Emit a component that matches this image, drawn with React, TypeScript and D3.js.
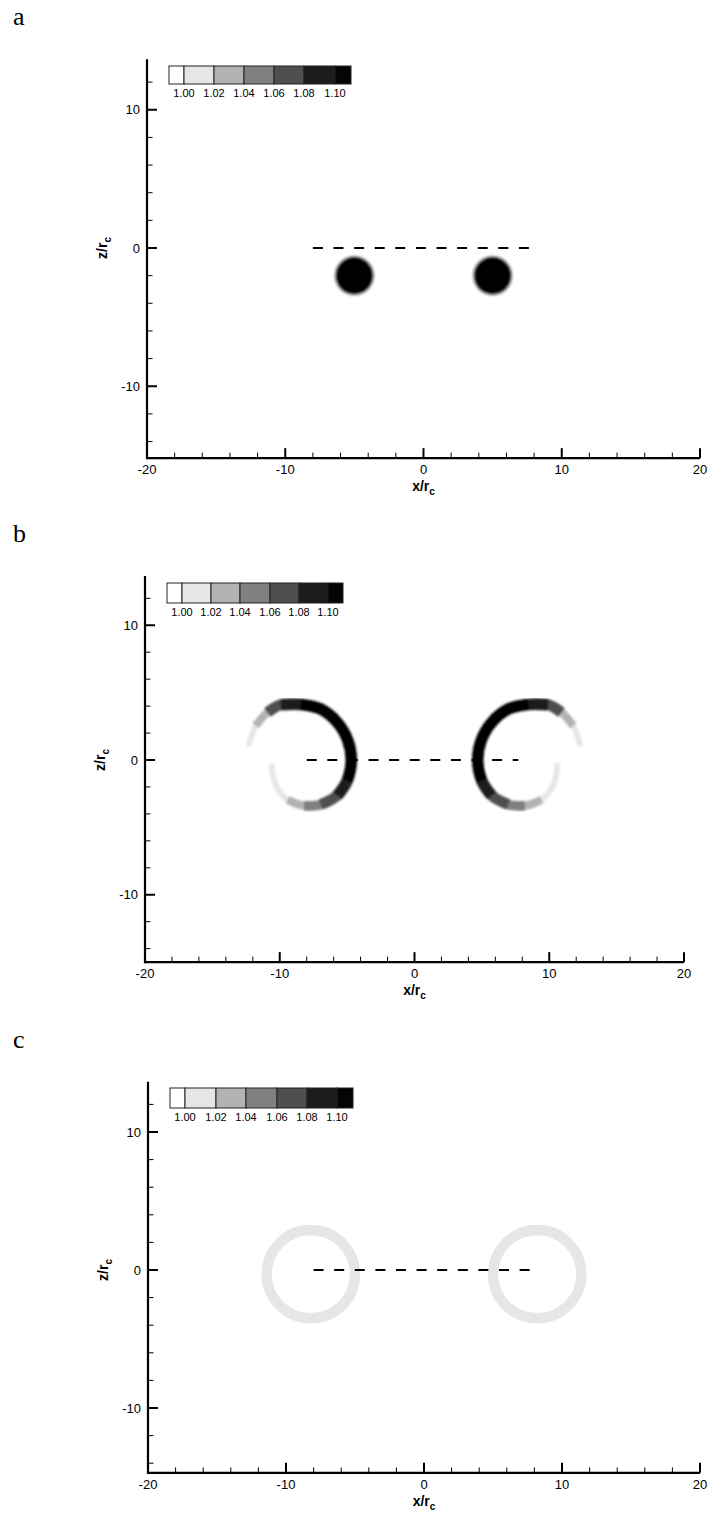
import React from 'react';
import * as d3 from 'd3';

// ---------- data ----------
const levelValues = [1.0, 1.02, 1.04, 1.06, 1.08, 1.1];
const levelLabels = ['1.00', '1.02', '1.04', '1.06', '1.08', '1.10'];
const levelColors = ['#ffffff', '#e6e6e6', '#b3b3b3', '#808080', '#4f4f4f', '#1c1c1c', '#050505'];

const xMajorTicks = [-20, -10, 0, 10, 20];
const zMajorTicks = [-10, 0, 10];
const xMinorTicks = [-18, -16, -14, -12, -8, -6, -4, -2, 2, 4, 6, 8, 12, 14, 16, 18];
const zMinorTicks = [-14, -12, -8, -6, -4, -2, 2, 4, 6, 8, 12];
const xDomain = [-20, 20];
const zTop = 13.65;

// dashed reference line (z = 0)
const dashStartX = -8;
const dashEndX = 7.7;

// panel a: vortex cores
const coreX = [-5, 5];
const coreZ = [-2, -2];
const coreRadius = [1.5, 1.5];
const coreShellRadii = [1.0, 0.96, 0.92, 0.87]; // fraction of radius
const coreShellValues = [1.01, 1.03, 1.07, 1.11];

// panel b: spiral (left vortex, right is its mirror)
const spiralX = [-12.27, -11.78, -10.91, -9.93, -8.44, -6.96, -5.73, -4.94, -4.69, -4.99, -5.73, -6.96, -8.2, -9.43, -10.17, -10.54, -10.6];
const spiralZ = [1.2, 2.54, 3.53, 4.1, 4.12, 3.78, 2.79, 1.43, -0.05, -1.53, -2.64, -3.31, -3.4, -2.95, -2.1, -1.0, -0.42];
const spiralValue = [1.01, 1.035, 1.07, 1.095, 1.11, 1.11, 1.11, 1.11, 1.11, 1.11, 1.095, 1.075, 1.055, 1.035, 1.015, 1.01, 1.005];
const layerWidth = [0.42, 0.6, 0.72, 0.8, 0.86, 0.78];

// panel c: rings
const ringX = [-8.2, 8.2];
const ringZ = [-0.3, -0.3];
const ringRadius = [3.2, 3.2];
const ringWidth = [0.75, 0.75];
const ringValue = [1.01, 1.01];

// ---------- layout ----------
const panels = [
  { id: 'a', xL: 147, xR: 700, y0: 248, zBottom: -15.2, legX: [169, 184, 214, 244, 274, 304, 335, 351], legTop: 66, legH: 18 },
  { id: 'b', xL: 145, xR: 684, y0: 760, zBottom: -15, legX: [167, 182, 211, 240, 270, 299, 328, 343], legTop: 583, legH: 20 },
  { id: 'c', xL: 148, xR: 700, y0: 1270, zBottom: -14.7, legX: [170, 185, 216, 246, 277, 307, 337, 353], legTop: 1088, legH: 20 },
];

const color = d3.scaleThreshold<number, string>().domain(levelValues).range(levelColors);
const FONT = 'Liberation Sans, Arial, Helvetica, sans-serif';

function Panel({ p }: { p: any }) {
  const k = (p.xR - p.xL) / (xDomain[1] - xDomain[0]);
  const x = d3.scaleLinear().domain(xDomain).range([p.xL, p.xR]);
  const z = d3.scaleLinear().domain([p.zBottom, zTop]).range([p.y0 - p.zBottom * k, p.y0 - zTop * k]);
  const yBottom = z(p.zBottom);
  const yTop = z(zTop);
  const xMid = x(0);

  const content: any[] = [];
  if (p.id === 'a') {
    coreX.forEach((cx, i) => {
      coreShellRadii.forEach((f, j) => {
        content.push(
          <circle key={`c${i}-${j}`} cx={x(cx)} cy={z(coreZ[i])} r={coreRadius[i] * f * k} fill={color(coreShellValues[j])} />
        );
      });
    });
  }
  if (p.id === 'b') {
    [1, -1].forEach((s) => {
      const pts = spiralX.map((v, i) => [x(s * v), z(spiralZ[i])] as [number, number]);
      levelValues.forEach((L, j) => {
        const idx = spiralValue.map((v, i) => (v > L ? i : -1)).filter((i) => i >= 0);
        if (!idx.length) return;
        const sub = pts.slice(idx[0], idx[idx.length - 1] + 1);
        const path = d3.line().curve(d3.curveCatmullRom.alpha(0.5))(sub) || '';
        content.push(
          <path key={`sp${s}-${j}`} d={path} fill="none" stroke={levelColors[j + 1]} strokeWidth={layerWidth[j] * k}
            strokeLinecap={j === 0 ? 'round' : 'butt'} strokeLinejoin="round" />
        );
      });
    });
  }
  if (p.id === 'c') {
    ringX.forEach((cx, i) => {
      content.push(
        <circle key={`r${i}`} cx={x(cx)} cy={z(ringZ[i])} r={ringRadius[i] * k} fill="none" stroke={color(ringValue[i])} strokeWidth={ringWidth[i] * k} />
      );
    });
  }

  return (
    <g>
      <text x={13} y={yTop - 34} fontFamily="Liberation Serif, Times New Roman, serif" fontSize={26}>{p.id}</text>
      <g filter={p.id === 'c' ? undefined : 'url(#soft)'}>{content}</g>
      {/* dashed line */}
      <line x1={x(dashStartX)} x2={x(dashEndX)} y1={z(0)} y2={z(0)} stroke="#000" strokeWidth={2} strokeDasharray="10 10.6" />
      {/* legend */}
      {levelColors.map((c, i) => (
        <rect key={`l${i}`} x={p.legX[i]} y={p.legTop} width={p.legX[i + 1] - p.legX[i]} height={p.legH} fill={c} stroke="#222" strokeWidth={1} />
      ))}
      {levelLabels.map((t, i) => (
        <text key={`lt${i}`} x={p.legX[i + 1]} y={p.legTop + p.legH + 13} fontFamily={FONT} fontSize={11} textAnchor="middle">{t}</text>
      ))}
      {/* axes */}
      <line x1={p.xL} x2={p.xR} y1={yBottom} y2={yBottom} stroke="#000" strokeWidth={2.2} />
      <line x1={p.xL} x2={p.xL} y1={yBottom + 1.1} y2={yTop} stroke="#000" strokeWidth={2.2} />
      {xMajorTicks.map((t) => (
        <g key={`xm${t}`}>
          <line x1={x(t)} x2={x(t)} y1={yBottom} y2={yBottom - 10} stroke="#000" strokeWidth={2} />
          <text x={x(t)} y={yBottom + 16} fontFamily={FONT} fontSize={13} textAnchor="middle">{t}</text>
        </g>
      ))}
      {xMinorTicks.map((t) => (
        <line key={`xn${t}`} x1={x(t)} x2={x(t)} y1={yBottom} y2={yBottom - 5.5} stroke="#000" strokeWidth={1} />
      ))}
      {zMajorTicks.map((t) => (
        <g key={`zm${t}`}>
          <line x1={p.xL} x2={p.xL + 10} y1={z(t)} y2={z(t)} stroke="#000" strokeWidth={2} />
          <text x={p.xL - 7} y={z(t) + 4.5} fontFamily={FONT} fontSize={13} textAnchor="end">{t}</text>
        </g>
      ))}
      {zMinorTicks.filter((t) => t > p.zBottom).map((t) => (
        <line key={`zn${t}`} x1={p.xL} x2={p.xL + 5.5} y1={z(t)} y2={z(t)} stroke="#000" strokeWidth={1} />
      ))}
      {/* axis titles */}
      <text x={xMid} y={yBottom + 33} fontFamily={FONT} fontSize={14} fontWeight="bold" textAnchor="middle">
        x/r<tspan fontSize={10} dy={4}>c</tspan>
      </text>
      <text transform={`translate(${p.xL - 40},${z(0)}) rotate(-90)`} fontFamily={FONT} fontSize={14} fontWeight="bold" textAnchor="middle">
        z/r<tspan fontSize={10} dy={4}>c</tspan>
      </text>
    </g>
  );
}

export default function App() {
  return (
    <svg width={715} height={1521} style={{ position: 'absolute', left: 0, top: 0, background: '#fff' }}>
      <defs>
        <filter id="soft" x="-5%" y="-5%" width="110%" height="110%">
          <feGaussianBlur stdDeviation="1.1" />
        </filter>
      </defs>
      <rect width={715} height={1521} fill="#fff" />
      {panels.map((p) => (
        <Panel key={p.id} p={p} />
      ))}
    </svg>
  );
}
